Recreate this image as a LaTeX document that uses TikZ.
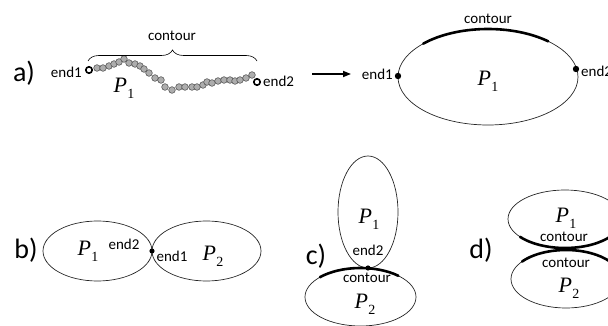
\documentclass[tikz,border=0pt]{standalone}
\usepackage{fontspec}
\setmainfont{Carlito}
\newfontfamily\varfont{Liberation Serif}
\usetikzlibrary{arrows.meta,decorations.pathreplacing}
% polymer symbol with upright index
\newcommand{\polyvar}[1]{{\varfont\itshape P}\kern0.5pt\raisebox{-0.28em}{\varfont\fontsize{14}{14}\selectfont #1}}
\begin{document}
\begin{tikzpicture}[x=1pt,y=-1pt,
  lbl/.style={font=\fontsize{15}{18}\selectfont, inner sep=0pt},
  part/.style={font=\fontsize{28}{32}\selectfont, inner sep=0pt},
  pvar/.style={font=\fontsize{22}{24}\selectfont, inner sep=0pt},
  outline/.style={line width=0.7pt, draw=black!85},
  contourarc/.style={line width=2.6pt, line cap=round},
  bead/.style={fill=black!32, draw=black!65, line width=0.6pt},
  endbead/.style={fill=white, draw=black, line width=1.6pt},
  enddot/.style={fill=black}
]
\useasboundingbox (0,0) rectangle (608,326);

% ---------- a) polymer chain ----------
\node[part] (la) at (24,73) {a)};
\foreach \x/\y in {97/68,103/68,109/66,114/64,119/62,124/59,129/63,135/64,
    140/66,144/69,149/73,155/78,161/80,165/87,172/90,179/87,185/87,192/87,
    197/87,203/85,207/82,212/83,218/81,224/80,230/80,235/81,240/80,246/78,252/75}
  \filldraw[bead] (\x,\y) circle (3.3);
\filldraw[endbead] (89,70) circle (3.2);
\filldraw[endbead] (257,82) circle (3.2);
\node[lbl,anchor=east] (ae1) at (82,72) {end1};
\node[lbl,anchor=west] (ae2) at (263,81) {end2};
\node[pvar] (ap1) at (124,88) {\polyvar{1}};
\draw[line width=0.6pt, decorate,
      decoration={brace,amplitude=11pt}] (88,61) -- (257,61);
\node[lbl] (acont) at (172,36) {contour};

% arrow between the two states
\coordinate (arrS) at (312,74);
\coordinate (arrE) at (351,74);
\draw[line width=1.6pt, -{Triangle[length=8pt,width=6pt]}] (arrS) -- (arrE);

% ---------- a) closed loop ----------
\draw[outline] (488,77) ellipse [x radius=90, y radius=48];
\draw[contourarc] (488,77) ++(-136:90 and 48) arc[start angle=-136, end angle=-48, x radius=90, y radius=48];
\fill[enddot] (398,76) circle (3.2);
\fill[enddot] (576,69) circle (3.2);
\node[lbl,anchor=east] (be1) at (393,74) {end1};
\node[lbl,anchor=west] (be2) at (581,71) {end2};
\node[lbl] (bcont) at (488,19) {contour};
\node[pvar] (bp1) at (488,81) {\polyvar{1}};

% ---------- b) end-to-end ----------
\node[part] (lb) at (26,250) {b)};
\draw[outline] (97.5,251) ellipse [x radius=54.5, y radius=30];
\draw[outline] (206.5,251) ellipse [x radius=54.5, y radius=30];
\fill[enddot] (152,251) circle (2.6);
\node[pvar] (cp1) at (88,251) {\polyvar{1}};
\node[lbl] (ce2) at (124,244) {end2};
\node[lbl] (ce1) at (172,256) {end1};
\node[pvar] (cp2) at (213,256) {\polyvar{2}};

% ---------- c) end-to-contour ----------
\node[part] (lc) at (316,256) {c)};
\draw[outline] (368,212) ellipse [x radius=30, y radius=56];
\draw[outline] (360.5,297) ellipse [x radius=55.5, y radius=29];
\draw[contourarc] (360.5,297) ++(-137:55.5 and 29) arc[start angle=-137, end angle=-47, x radius=55.5, y radius=29];
\fill[enddot] (368,268) circle (2.6);
\node[pvar] (dp1) at (369,219) {\polyvar{1}};
\node[lbl] (de2) at (368,250) {end2};
\node[lbl] (dcont) at (367,278) {contour};
\node[pvar] (dp2) at (365,304) {\polyvar{2}};

% ---------- d) contour-to-contour ----------
\node[part] (ld) at (481,250) {d)};
\draw[outline] (565,219) ellipse [x radius=57, y radius=29];
\draw[outline] (566,279) ellipse [x radius=55, y radius=29];
\draw[contourarc] (565,219) ++(142:57 and 29) arc[start angle=142, end angle=30, x radius=57, y radius=29];
\draw[contourarc] (566,279) ++(-143:55 and 29) arc[start angle=-143, end angle=-30, x radius=55, y radius=29];
\node[pvar] (ep1) at (566,218) {\polyvar{1}};
\node[lbl] (econt1) at (564,237) {contour};
\node[lbl] (econt2) at (566,263) {contour};
\node[pvar] (ep2) at (569,288) {\polyvar{2}};
\end{tikzpicture}
\end{document}
